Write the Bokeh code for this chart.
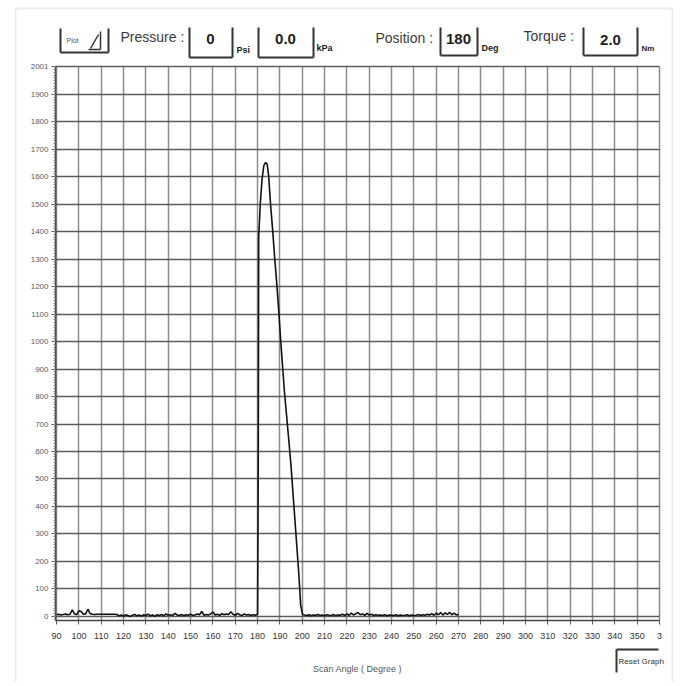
from bokeh.plotting import figure
from bokeh.models import FixedTicker, Label, BoxAnnotation, Arrow, LinearAxis, Grid
from bokeh.embed import file_html
from bokeh.resources import INLINE

# ---------------- data ----------------
angles_before = list(range(90, 180))
noise_before = [6, 8, 5, 7, 9, 6, 8, 24, 9, 7, 20, 18, 8, 9, 26, 10, 8, 7, 8, 8,
                8, 8, 8, 8, 8, 8, 8, 7,
                2, 5, 1, 6, 3, 0, 4, 7, 2, 5, 1, 6, 3, 8, 2, 5, 0, 6, 3, 7, 2, 9,
                4, 6, 3, 11, 5, 3, 7, 2, 6, 4, 8, 3, 5, 9, 6, 18, 4, 7, 5, 9,
                16, 5, 8, 3, 10, 6, 9, 7, 17, 8, 4, 11, 6, 3, 9, 5, 7, 3, 6, 4]
peak_angles = [180, 180.3, 180.5, 181.2, 182.0, 182.8, 183.6, 184.3, 185.0, 185.8,
               186.8, 187.8, 188.6, 189.5, 190.3, 192.0, 194.0, 195.0, 197.0,
               198.5, 199.3, 200.2]
peak_values = [8, 520, 1380, 1500, 1590, 1640, 1652, 1645, 1600, 1500,
               1400, 1290, 1210, 1110, 1010, 820, 640, 545, 320,
               150, 40, 6]
angles_after = list(range(201, 271))
noise_after = [5, 3, 6, 2, 5, 4, 7, 3, 5, 2, 6, 4, 3, 7, 2, 5, 4, 8, 3, 9,
               4, 12, 5, 10, 14, 6, 9, 4, 11, 5, 8, 3, 6, 4, 5, 3, 6, 2, 5, 4,
               3, 6, 2, 5, 3, 4, 6, 2, 5, 3, 4, 7, 3, 6, 4, 8, 5, 10, 4, 12,
               6, 14, 5, 13, 7, 15, 6, 12, 5, 8]

x_ticks = list(range(90, 361, 10))
y_ticks = list(range(0, 2000, 100)) + [2001]
y_minor = list(range(0, 2001, 10))

header_labels = ["Pressure :", "Position :", "Torque :"]
header_values = ["0", "0.0", "180", "2.0"]
header_units = ["Psi", "kPa", "Deg", "Nm"]

angles = angles_before + peak_angles + angles_after
values = noise_before + peak_values + noise_after

# ---------------- geometry ----------------
X0, X1 = 89.5, 360          # plotting region (data)
Y0, Y1 = -15, 2001
W, H = 676, 682
FX0, FX1 = 55, 659          # canvas x of the plotting region
FY0, FY1 = 66, 620          # canvas y of the plotting region


def dx(px):
    return X0 + (px - FX0) * (X1 - X0) / (FX1 - FX0)


def dy(py):
    return Y1 - (py - FY0) * (Y1 - Y0) / (FY1 - FY0)


FONT = "Liberation Sans"

p = figure(width=W, height=H,
           x_range=(dx(0), dx(W)), y_range=(dy(H), dy(0)),
           x_axis_type=None, y_axis_type=None,
           output_backend="svg", toolbar_location=None,
           min_border=0, min_border_left=0, min_border_right=0,
           min_border_top=0, min_border_bottom=0)
p.background_fill_color = "white"
p.border_fill_color = "white"
p.outline_line_color = None

# grids
has_cross = "cross_bounds" in Grid.properties()
gx = Grid(dimension=0, ticker=FixedTicker(ticks=x_ticks), bounds=(X0, X1),
          grid_line_color="#8c8c8c", grid_line_width=1.5)
gy = Grid(dimension=1, ticker=FixedTicker(ticks=y_ticks), bounds=(Y0, Y1),
          grid_line_color="#5c5c5c", grid_line_width=1.5)
if has_cross:
    gx.cross_bounds = (Y0, Y1)
    gy.cross_bounds = (X0, X1)
    p.add_layout(gx)
    p.add_layout(gy)
else:
    p.segment(x0=x_ticks, y0=[Y0] * len(x_ticks), x1=x_ticks, y1=[Y1] * len(x_ticks),
              line_color="#8c8c8c", line_width=1.5)
    p.segment(x0=[X0] * len(y_ticks), y0=y_ticks, x1=[X1] * len(y_ticks), y1=y_ticks,
              line_color="#5c5c5c", line_width=1.5)

# data
p.line(angles, values, line_color="#111111", line_width=1.6)

# axes at fixed locations
xax = LinearAxis(fixed_location=Y0, bounds=(X0, X1), ticker=FixedTicker(ticks=x_ticks))
yax = LinearAxis(fixed_location=X0, bounds=(Y0, Y1),
                 ticker=FixedTicker(ticks=y_ticks, minor_ticks=y_minor))
for ax in (xax, yax):
    ax.axis_line_color = "#444444"
    ax.axis_line_width = 1.5
    ax.major_tick_line_color = "#555555"
    ax.major_tick_out = 4
    ax.major_tick_in = 0
    ax.major_label_text_font = FONT
xax.major_label_overrides = {360: "3"}
xax.minor_tick_line_color = None
xax.major_label_text_font_size = "9px"
xax.major_label_text_color = "#333333"
xax.major_label_standoff = 8
xax.axis_label = "Scan Angle ( Degree )"
xax.axis_label_text_font = FONT
xax.axis_label_text_font_style = "normal"
xax.axis_label_text_font_size = "9px"
xax.axis_label_text_color = "#555555"
xax.axis_label_standoff = 22
yax.minor_tick_line_color = "#888888"
yax.minor_tick_out = 2
yax.minor_tick_in = 0
yax.major_label_text_font_size = "8px"
yax.major_label_text_color = "#5a5a66"
yax.major_label_standoff = 3
p.add_layout(xax, "below")
p.add_layout(yax, "left")


def seg(px1, py1, px2, py2, color="#333333", width=2):
    p.add_layout(Arrow(end=None, x_start=dx(px1), y_start=dy(py1),
                       x_end=dx(px2), y_end=dy(py2),
                       line_color=color, line_width=width))


def txt(text, px, py, size, bold=False, align="left", color="#333333"):
    p.add_layout(Label(x=dx(px), y=dy(py), text=text, text_font=FONT,
                       text_font_size=f"{size}px",
                       text_font_style="bold" if bold else "normal",
                       text_align=align, text_baseline="middle",
                       text_color=color))


def box3(left, right, bottom, top=27):
    seg(left, top, left, bottom)
    seg(left, bottom, right, bottom)
    seg(right, top, right, bottom)


# window frame
p.add_layout(BoxAnnotation(left=dx(15), right=dx(672), top=dy(8), bottom=dy(700),
                           fill_color=None, line_color="#c4c4c4", line_width=2))

# Plot button
box3(60, 108, 52, 28)
txt("Plot", 66, 40, 7, color="#555555")
seg(88, 49, 100, 49, width=1.5)
seg(100, 31, 100, 49, width=1.5)
seg(90, 48, 98, 34, width=1.5)

# header fields
txt(header_labels[0], 120, 36, 14, color="#3a3a3a")
box3(189, 232, 57)
txt(header_values[0], 210, 38, 15, bold=True, align="center", color="#222222")
txt(header_units[0], 236, 49, 9, bold=True, color="#222222")
box3(258, 313, 57)
txt(header_values[1], 285, 38, 15, bold=True, align="center", color="#222222")
txt(header_units[1], 316, 47, 9, bold=True, color="#222222")

txt(header_labels[1], 375, 37, 14, color="#3a3a3a")
box3(440, 477, 55)
txt(header_values[2], 458, 38, 15, bold=True, align="center", color="#222222")
txt(header_units[2], 481, 47, 9, bold=True, color="#222222")

txt(header_labels[2], 523, 35, 14, color="#3a3a3a")
box3(583, 637, 55)
txt(header_values[3], 610, 39, 15, bold=True, align="center", color="#222222")
txt(header_units[3], 641, 48, 8, bold=True, color="#222222")

# Reset Graph button
seg(616, 649, 658, 649, width=2)
seg(616, 649, 616, 672, width=2)
txt("Reset Graph", 618, 661, 8, color="#333333")

open("out.html", "w").write(file_html(p, INLINE))
